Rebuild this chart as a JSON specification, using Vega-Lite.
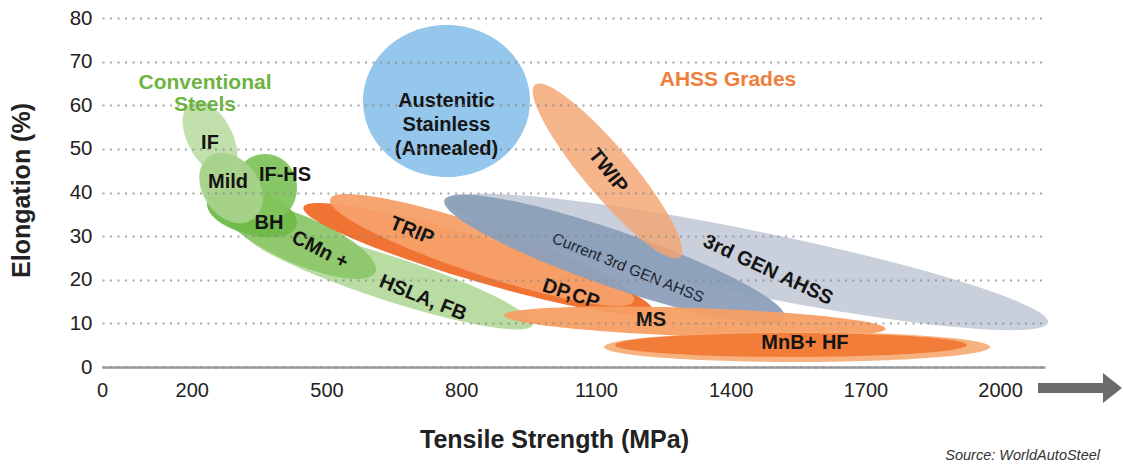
{
  "$schema": "https://vega.github.io/schema/vega-lite/v6.json",
  "width": 943,
  "height": 349,
  "autosize": "none",
  "padding": {"left": 102, "top": 18, "right": 79, "bottom": 101},
  "background": "white",
  "config": {"view": {"stroke": null}, "font": "Liberation Sans"},
  "datasets": {
    "regions": [
      {"name": "HSLA, FB", "strength": 636.9, "elongation": 20.40},
      {"name": "CMn +", "strength": 440.9, "elongation": 29.11},
      {"name": "IF", "strength": 240.5, "elongation": 52.49},
      {"name": "BH", "strength": 334.0, "elongation": 35.30},
      {"name": "IF-HS", "strength": 363.0, "elongation": 41.03},
      {"name": "Mild", "strength": 287.3, "elongation": 41.03},
      {"name": "Austenitic Stainless", "strength": 767.2, "elongation": 60.97},
      {"name": "3rd GEN AHSS", "strength": 1438.6, "elongation": 24.07},
      {"name": "DP, CP", "strength": 837.3, "elongation": 24.76},
      {"name": "TRIP", "strength": 846.2, "elongation": 26.82},
      {"name": "Current 3rd GEN AHSS", "strength": 1141.3, "elongation": 24.76},
      {"name": "MS", "strength": 1320.0, "elongation": 10.32},
      {"name": "MnB+ HF halo", "strength": 1547.7, "elongation": 4.58},
      {"name": "MnB+ HF", "strength": 1534.4, "elongation": 5.04},
      {"name": "TWIP", "strength": 1125.7, "elongation": 44.93}
    ],
    "labels": [
      {"label": "IF", "strength": 240.5, "elongation": 51.35},
      {"label": "Mild", "strength": 280.6, "elongation": 42.41},
      {"label": "IF-HS", "strength": 407.5, "elongation": 44.01},
      {"label": "BH", "strength": 371.9, "elongation": 33.01},
      {"label": "CMn +", "strength": 485.5, "elongation": 26.82},
      {"label": "HSLA, FB", "strength": 714.8, "elongation": 15.82},
      {"label": "TRIP", "strength": 690.3, "elongation": 31.17},
      {"label": "DP,CP", "strength": 1044.4, "elongation": 16.73},
      {"label": "MS", "strength": 1222.6, "elongation": 10.77},
      {"label": "MnB+ HF", "strength": 1565.5, "elongation": 5.50},
      {"label": "TWIP", "strength": 1126.8, "elongation": 44.93},
      {"label": "3rd GEN AHSS", "strength": 1483.1, "elongation": 22.23}
    ],
    "current": [
      {"label": "Current 3rd GEN AHSS", "strength": 1171.4, "elongation": 22.69}
    ],
    "austenitic": [
      {"label": "Austenitic\nStainless\n(Annealed)", "strength": 767.2, "elongation": 60.97}
    ],
    "conventional": [
      {"label": "Conventional\nSteels", "strength": 229.4, "elongation": 65.10}
    ],
    "ahss": [
      {"label": "AHSS Grades", "strength": 1394.1, "elongation": 65.79}
    ],
    "arrow": [
      {"strength": 2177.9, "elongation": -4.81}
    ],
    "source": [
      {"label": "Source: WorldAutoSteel", "strength": 2222.5, "elongation": -20.4}
    ]
  },
  "encoding": {
    "x": {
      "field": "strength",
      "type": "quantitative",
      "scale": {"domain": [0, 2100], "nice": false, "zero": false},
      "axis": {
        "values": [0, 200, 500, 800, 1100, 1400, 1700, 2000],
        "format": "d",
        "title": "Tensile Strength (MPa)",
        "grid": false,
        "ticks": false,
        "domainColor": "#9a9a9a",
        "domainWidth": 2.5,
        "labelFontSize": 20,
        "labelColor": "#222222",
        "labelPadding": 23,
        "labelBaseline": "middle",
        "labelFlush": false,
        "labelFont": "Liberation Sans",
        "titleFont": "Liberation Sans",
        "titleFontSize": 25,
        "titleFontWeight": "bold",
        "titleColor": "#222222",
        "titleX": 452,
        "titleY": 72,
        "titleBaseline": "middle",
        "titleAlign": "center"
      }
    },
    "y": {
      "field": "elongation",
      "type": "quantitative",
      "scale": {"domain": [0, 80], "nice": false},
      "axis": {
        "values": [0, 10, 20, 30, 40, 50, 60, 70, 80],
        "title": "Elongation (%)",
        "grid": true,
        "gridDash": [2, 5.5],
        "gridColor": "#8a8a8a",
        "gridWidth": 2,
        "gridOpacity": 0.75,
        "ticks": false,
        "domain": false,
        "labelFontSize": 20.5,
        "labelColor": "#222222",
        "labelPadding": 10,
        "labelFont": "Liberation Sans",
        "titleFont": "Liberation Sans",
        "titleFontSize": 25,
        "titleFontWeight": "bold",
        "titleColor": "#222222",
        "titleX": -81,
        "titleY": 172,
        "titleAngle": -90,
        "titleBaseline": "middle",
        "titleAlign": "center",
        "zindex": 1
      }
    }
  },
  "layer": [
    {
      "data": {"name": "regions"},
      "transform": [{"filter": "datum.name != 'TWIP'"}],
      "mark": {"type": "point", "filled": true, "size": 4, "opacity": 0.95, "strokeWidth": 0, "clip": false},
      "encoding": {
        "shape": {
          "field": "name",
          "type": "nominal",
          "legend": null,
          "scale": {
            "domain": ["HSLA, FB", "CMn +", "IF", "BH", "IF-HS", "Mild", "Austenitic Stainless", "3rd GEN AHSS", "DP, CP", "TRIP", "Current 3rd GEN AHSS", "MS", "MnB+ HF halo", "MnB+ HF"],
            "range": [
              "M-144.6,-47A152,22,18,1,1,144.6,47A152,22,18,1,1,-144.6,-47Z",
              "M-75.5,-32A82,24,23,1,1,75.5,32A82,24,23,1,1,-75.5,-32Z",
              "M-18.8,-35.3A40,22,62,1,1,18.8,35.3A40,22,62,1,1,-18.8,-35.3Z",
              "M-44.4,-11.9A46,21,15,1,1,44.4,11.9A46,21,15,1,1,-44.4,-11.9Z",
              "M-32,0A32,34,0,1,1,32,0A32,34,0,1,1,-32,0Z",
              "M-21.8,-31.1A38,27,55,1,1,21.8,31.1A38,27,55,1,1,-21.8,-31.1Z",
              "M-83.5,0A83.5,76,0,1,1,83.5,0A83.5,76,0,1,1,-83.5,0Z",
              "M-300,-60.5A306,32,11.4,1,1,300,60.5A306,32,11.4,1,1,-300,-60.5Z",
              "M-174.5,-51.7A182,22,16.5,1,1,174.5,51.7A182,22,16.5,1,1,-174.5,-51.7Z",
              "M-151.7,-50.8A160,24,18.5,1,1,151.7,50.8A160,24,18.5,1,1,-151.7,-50.8Z",
              "M-170.1,-58.9A180,28,19.1,1,1,170.1,58.9A180,28,19.1,1,1,-170.1,-58.9Z",
              "M-190.9,-6.7A191,14,2,1,1,190.9,6.7A191,14,2,1,1,-190.9,-6.7Z",
              "M-193,0A193,15,0,1,1,193,0A193,15,0,1,1,-193,0Z",
              "M-176,0A176,12,0,1,1,176,0A176,12,0,1,1,-176,0Z"
            ]
          }
        },
        "color": {
          "field": "name",
          "type": "nominal",
          "legend": null,
          "scale": {
            "domain": ["HSLA, FB", "CMn +", "IF", "BH", "IF-HS", "Mild", "Austenitic Stainless", "3rd GEN AHSS", "DP, CP", "TRIP", "Current 3rd GEN AHSS", "MS", "MnB+ HF halo", "MnB+ HF"],
            "range": ["#b5da9d", "#8cc66a", "#bfdea8", "#6fbb48", "#82c45d", "#a6d28a", "#8fc3eb", "#c6ced9", "#ef6c28", "#f5a068", "#8c9fba", "#f59f64", "#f8ae78", "#f07a36"]
          }
        }
      }
    },
    {
      "data": {"name": "regions"},
      "transform": [{"filter": "datum.name == 'TWIP'"}],
      "mark": {"type": "point", "filled": true, "size": 4, "opacity": 0.82, "strokeWidth": 0, "color": "#f4a370", "clip": false,
        "shape": "M-72.5,-86.1A112.5,24,49.9,1,1,72.5,86.1A112.5,24,49.9,1,1,-72.5,-86.1Z"}
    },
    {
      "data": {"name": "labels"},
      "mark": {"type": "text", "font": "Liberation Sans", "fontWeight": "bold", "fontSize": 20, "color": "#141414", "align": "center", "baseline": "middle", "clip": false},
      "encoding": {
        "text": {"field": "label", "type": "nominal"},
        "angle": {
          "field": "label",
          "type": "nominal",
          "legend": null,
          "scale": {
            "type": "ordinal",
            "domain": ["IF", "Mild", "IF-HS", "BH", "CMn +", "HSLA, FB", "TRIP", "DP,CP", "MS", "MnB+ HF", "TWIP", "3rd GEN AHSS"],
            "range": [0, 0, 0, 0, 27, 22, 22, 18, 0, 0, 52, 25]
          }
        }
      }
    },
    {
      "data": {"name": "current"},
      "mark": {"type": "text", "font": "Liberation Sans", "fontSize": 15.5, "color": "#1e2530", "align": "center", "baseline": "middle", "angle": 22, "clip": false},
      "encoding": {"text": {"field": "label", "type": "nominal"}}
    },
    {
      "data": {"name": "austenitic"},
      "mark": {"type": "text", "font": "Liberation Sans", "fontWeight": "bold", "fontSize": 20, "color": "#141414", "align": "center", "baseline": "middle", "lineBreak": "\n", "lineHeight": 24, "clip": false},
      "encoding": {"text": {"field": "label", "type": "nominal"}}
    },
    {
      "data": {"name": "conventional"},
      "mark": {"type": "text", "font": "Liberation Sans", "fontWeight": "bold", "fontSize": 21, "color": "#6db33f", "align": "center", "baseline": "middle", "lineBreak": "\n", "lineHeight": 22, "clip": false},
      "encoding": {"text": {"field": "label", "type": "nominal"}}
    },
    {
      "data": {"name": "ahss"},
      "mark": {"type": "text", "font": "Liberation Sans", "fontWeight": "bold", "fontSize": 21, "color": "#ef7d3b", "align": "center", "baseline": "middle", "clip": false},
      "encoding": {"text": {"field": "label", "type": "nominal"}}
    },
    {
      "data": {"name": "arrow"},
      "mark": {"type": "point", "filled": true, "size": 4, "opacity": 1, "strokeWidth": 0, "color": "#6b6b6b", "clip": false,
        "shape": "M-42,-5L23,-5L23,-15L42,0L23,15L23,5L-42,5Z"}
    },
    {
      "data": {"name": "source"},
      "mark": {"type": "text", "font": "Liberation Sans", "fontStyle": "italic", "fontSize": 14.5, "color": "#333333", "align": "right", "baseline": "middle", "clip": false},
      "encoding": {"text": {"field": "label", "type": "nominal"}}
    }
  ]
}
